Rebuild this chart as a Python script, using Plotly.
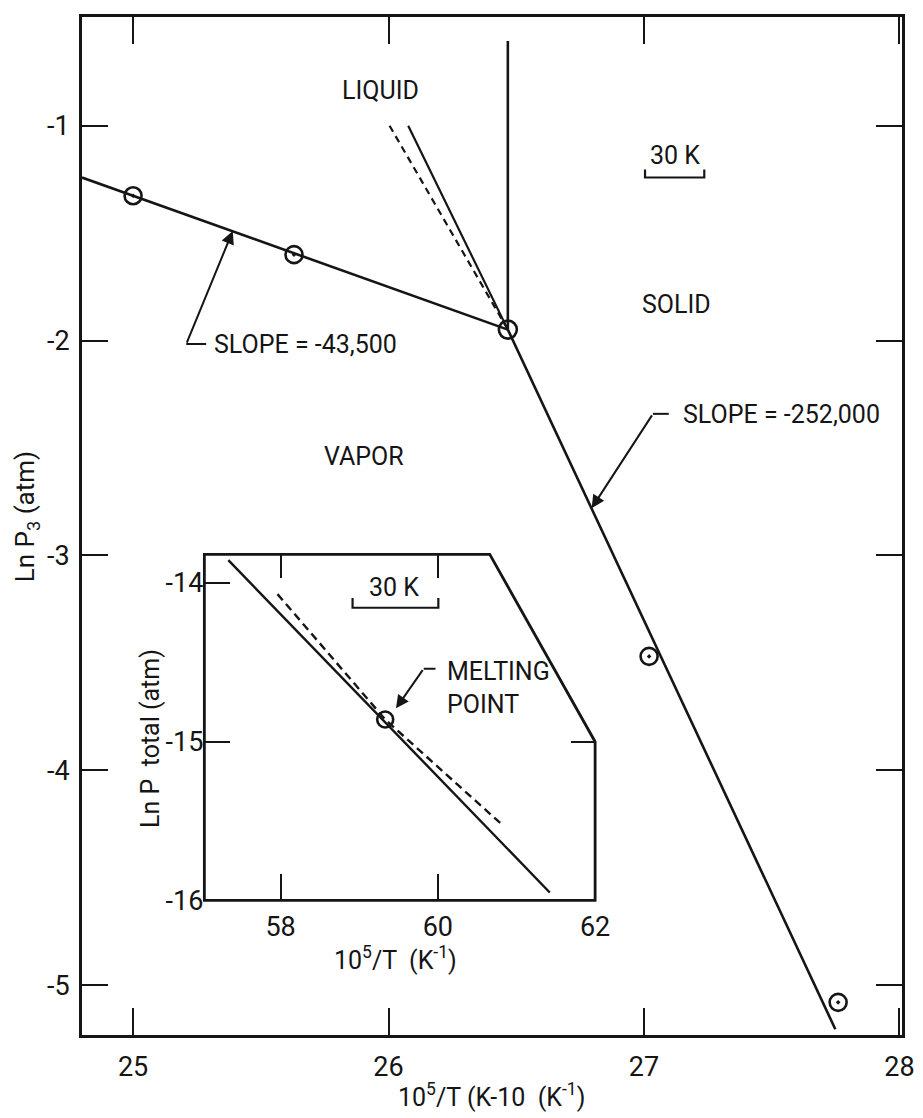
import plotly.graph_objects as go

# ---------------- data (main plot) ----------------
pts_x = [25.00, 25.63, 27.02, 27.76]
pts_y = [-1.326, -1.60, -3.47, -5.08]
triple_x = [26.467]
triple_y = [-1.949]
vap_line_x = [24.80, 26.467]
vap_line_y = [-1.241, -1.949]
sub_line_x = [26.467, 27.749]
sub_line_y = [-1.949, -5.205]
melt_line_x = [26.467, 26.467]
melt_line_y = [-1.949, -0.606]
liq_solid_x = [26.077, 26.467]
liq_solid_y = [-1.0, -1.949]
liq_dash_x = [26.004, 26.467]
liq_dash_y = [-1.0, -1.949]
main_xticks = [25, 26, 27, 28]
main_yticks = [-1, -2, -3, -4, -5]
main_xrange = [24.8, 28.01]
main_yrange = [-5.232, -0.494]
scale_x = [27.004, 27.004, 27.236, 27.236]
scale_y = [-1.204, -1.241, -1.241, -1.204]

# ---------------- data (inset) ----------------
in_solid_x = [57.335, 61.423]
in_solid_y = [-13.856, -15.95]
in_dash_x = [57.96, 59.33, 60.81]
in_dash_y = [-14.07, -14.86, -15.52]
in_melt_x = [59.33]
in_melt_y = [-14.86]
in_xticks = [58, 60, 62]
in_yticks = [-14, -15, -16]
in_xrange = [57.03, 62.0]
in_yrange = [-16.0, -13.82]
in_cut_x = 60.66   # where top edge starts slanting
in_cut_y = -15.0   # where slanted edge meets right edge
in_scale_x = [58.915, 58.915, 60.006, 60.006]
in_scale_y = [-14.094, -14.156, -14.156, -14.094]

FONT = "Roboto, Liberation Sans, sans-serif"
INK = "#151515"
LW = 2.6

fig = go.Figure()

def line(x, y, xa="x", ya="y", dash="solid", w=LW):
    fig.add_trace(go.Scatter(x=x, y=y, mode="lines", xaxis=xa, yaxis=ya,
                             line=dict(color=INK, width=w, dash=dash),
                             showlegend=False, hoverinfo="skip"))

# main lines
line(vap_line_x, vap_line_y)
line(sub_line_x, sub_line_y)
line(melt_line_x, melt_line_y)
line(liq_solid_x, liq_solid_y, w=2.2)
line(liq_dash_x, liq_dash_y, dash="7px,5px", w=2.2)
line(scale_x, scale_y, w=2.2)

fig.add_trace(go.Scatter(x=pts_x, y=pts_y, mode="markers",
                         marker=dict(symbol="circle-open-dot", size=17, color=INK,
                                     line=dict(width=2.6, color=INK)),
                         showlegend=False, hoverinfo="skip"))
fig.add_trace(go.Scatter(x=triple_x, y=triple_y, mode="markers",
                         marker=dict(symbol="circle-open", size=18, color=INK,
                                     line=dict(width=2.6, color=INK)),
                         showlegend=False, hoverinfo="skip"))

# inset lines
line(in_solid_x, in_solid_y, "x2", "y2", w=2.4)
line(in_dash_x, in_dash_y, "x2", "y2", dash="8px,5px", w=2.4)
line(in_scale_x, in_scale_y, "x2", "y2", w=2.2)
fig.add_trace(go.Scatter(x=in_melt_x, y=in_melt_y, mode="markers", xaxis="x3", yaxis="y3",
                         marker=dict(symbol="circle-open", size=16, color=INK,
                                     line=dict(width=2.6, color=INK)),
                         showlegend=False, hoverinfo="skip"))

# leaders (horizontal stubs)
line([25.208, 25.286], [-2.016, -2.016], w=2.0)
line([27.035, 27.097], [-2.341, -2.341], w=2.0)
line([59.82, 59.97], [-14.54, -14.54], "x2", "y2", w=2.0)

# ---- layout ----
# The page body has an 8px margin, so the figure is placed at (8, 8) in the picture.
OFF = 8
W, H = 915, 1110
# main frame in picture pixels
FL, FR, FT, FB = 82, 913, 14, 1035
L, R, T, B = FL - OFF, W - (FR - OFF), FT - OFF, H - (FB - OFF)
pw, ph = W - L - R, H - T - B

def px_x(p):   # picture x -> paper x
    return (p - OFF - L) / pw

def px_y(p):   # picture y -> paper y
    return (H - B - (p - OFF)) / ph

in_dom_x = [px_x(206), px_x(602)]
in_dom_y = [px_y(900), px_y(553)]

def hy(vals):
    return [str(v) for v in vals]

tick_font = dict(family=FONT, size=27, color=INK)
ax_common = dict(showgrid=False, zeroline=False, ticks="inside", tickcolor=INK,
                 linecolor=INK, tickfont=tick_font)

fig.update_layout(
    width=W, height=H, margin=dict(l=L, r=R, t=T, b=B),
    paper_bgcolor="white", plot_bgcolor="rgba(0,0,0,0)", showlegend=False,
    xaxis=dict(**ax_common, range=main_xrange, tickvals=main_xticks, ticklen=27, tickwidth=2,
               showline=True, linewidth=3, mirror="ticks", ticklabelstandoff=6),
    yaxis=dict(**ax_common, range=main_yrange, tickvals=main_yticks, ticktext=hy(main_yticks),
               ticklen=26, tickwidth=2, showline=True, linewidth=3, mirror="ticks",
               ticklabelstandoff=4),
    xaxis2=dict(**ax_common, domain=in_dom_x, anchor="y2", range=in_xrange, tickvals=in_xticks,
                ticklen=26, tickwidth=2, showline=False, ticklabelstandoff=8),
    yaxis2=dict(**ax_common, domain=in_dom_y, anchor="x2", range=in_yrange, tickvals=in_yticks,
                ticktext=hy(in_yticks), ticklen=26, tickwidth=2, showline=False),
    xaxis3=dict(**ax_common, overlaying="x2", anchor="y2", side="top", range=in_xrange,
                tickvals=[58, 60], ticklen=24, tickwidth=2, showline=False, showticklabels=False),
    yaxis3=dict(**ax_common, overlaying="y2", anchor="x2", side="right", range=in_yrange,
                tickvals=[-15], ticklen=24, tickwidth=2, showline=False, showticklabels=False),
)

# inset frame with cut corner (paper coords derived from inset axes)
def ipx(v):
    return in_dom_x[0] + (v - in_xrange[0]) / (in_xrange[1] - in_xrange[0]) * (in_dom_x[1] - in_dom_x[0])

def ipy(v):
    return in_dom_y[0] + (v - in_yrange[0]) / (in_yrange[1] - in_yrange[0]) * (in_dom_y[1] - in_dom_y[0])

x0, x1, y0, y1 = ipx(in_xrange[0]), ipx(in_xrange[1]), ipy(in_yrange[0]), ipy(in_yrange[1])
xc, yc = ipx(in_cut_x), ipy(in_cut_y)
path = f"M {x0},{y0} L {x0},{y1} L {xc},{y1} L {x1},{yc} L {x1},{y0} Z"
fig.add_shape(type="path", path=path, xref="paper", yref="paper",
              line=dict(color=INK, width=2.8), fillcolor="white", layer="below")

def txt(x, y, s, xref="x", yref="y", size=25, xanchor="center", yanchor="middle", angle=0, align="center"):
    fig.add_annotation(x=x, y=y, text=s, xref=xref, yref=yref, showarrow=False,
                       font=dict(family=FONT, size=size, color=INK),
                       xanchor=xanchor, yanchor=yanchor, textangle=angle, align=align)

def arrow(tip_x, tip_y, tail_x, tail_y, xref="x", yref="y"):
    fig.add_annotation(x=tip_x, y=tip_y, ax=tail_x, ay=tail_y, xref=xref, yref=yref,
                       axref=xref, ayref=yref, text="", showarrow=True,
                       arrowhead=2, arrowsize=1.3, arrowwidth=2, arrowcolor=INK, standoff=0)

txt(25.969, -0.838, "LIQUID")
txt(27.120, -1.139, "30 K")
txt(27.127, -1.831, "SOLID")
txt(25.903, -2.541, "VAPOR")
txt(25.309, -2.016, "SLOPE = -43,500", xanchor="left")
txt(27.143, -2.345, "SLOPE = -252,000", xanchor="left")
arrow(25.39, -1.49, 25.208, -2.016)
arrow(26.795, -2.78, 27.035, -2.341)

# inset texts
txt(59.44, -14.03, "30 K", "x2", "y2")
txt(60.09, -14.66, "MELTING<br>POINT", "x2", "y2", xanchor="left", align="left")
arrow(59.467, -14.79, 59.82, -14.54, "x2", "y2")

# axis titles
txt(px_x(497), px_y(1096), "10<sup>5</sup>/T (K-10  (K<sup>-1</sup>)", "paper", "paper")
txt(px_x(26), px_y(515), "Ln P<sub>3</sub> (atm)", "paper", "paper", angle=-90, size=26)
txt(px_x(400), px_y(958), "10<sup>5</sup>/T  (K<sup>-1</sup>)", "paper", "paper")
txt(px_x(152), px_y(738), "Ln P  total (atm)", "paper", "paper", angle=-90, size=25)

fig.write_html("out.html")
